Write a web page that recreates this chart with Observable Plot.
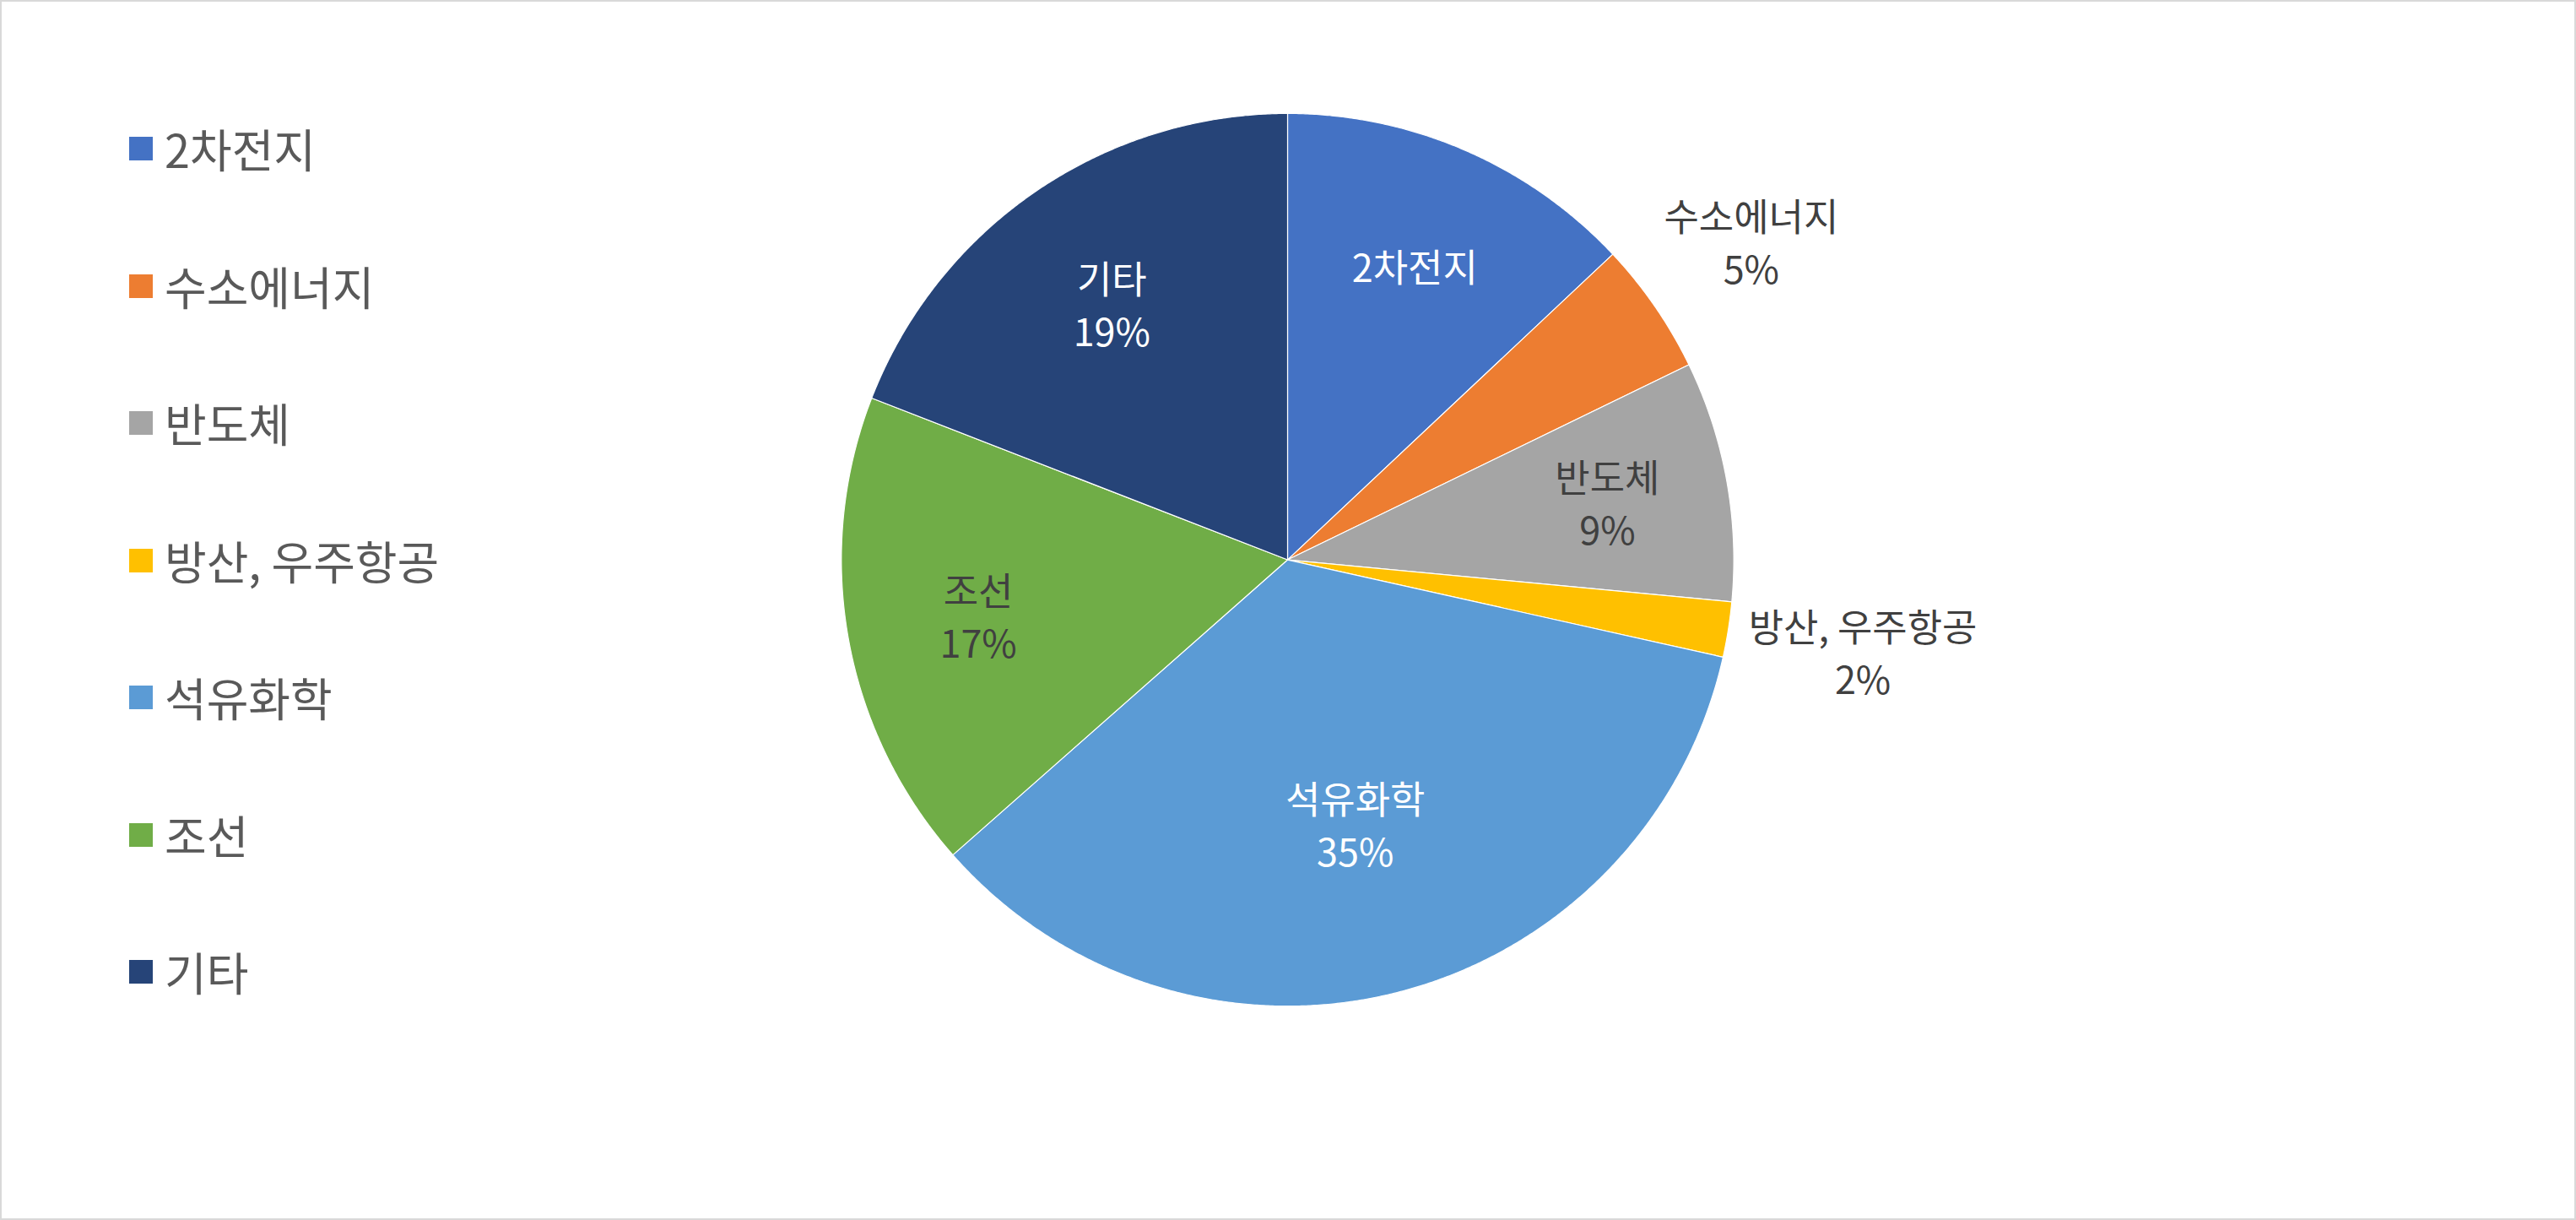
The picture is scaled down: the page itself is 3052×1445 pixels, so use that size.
<!DOCTYPE html>
<html>
<head>
<meta charset="utf-8">
<script src="https://cdn.jsdelivr.net/npm/d3@7"></script>
<script src="https://cdn.jsdelivr.net/npm/@observablehq/plot@0.6"></script>
<style>
  html, body { margin: 0; padding: 0; background: #fff; }
  #wrap { position: relative; width: 3052px; height: 1445px; box-sizing: border-box; border: 2px solid #d9d9d9; overflow: hidden; font-family: "Noto Sans CJK KR", "Noto Sans", sans-serif; }
  #chart { position: absolute; left: -2px; top: -2px; }
  #legend { position: absolute; left: 151px; top: 93px; }
  .item { height: 162.5px; display: flex; align-items: center; }
  .sw { width: 28px; height: 28px; margin-right: 14px; }
  .lab { font-size: 54px; color: #595959; line-height: 1; }
</style>
</head>
<body>
<div id="wrap">
  <div id="legend"></div>
  <div id="chart"></div>
</div>
<script>
const categories = ["2차전지", "수소에너지", "반도체", "방산, 우주항공", "석유화학", "조선", "기타"];
const shares = [13.0, 4.8, 8.7, 2.0, 35.0, 17.4, 19.1];
const showPercent = [false, true, true, true, true, true, true];

const sliceColors = ["#4472C4", "#ED7D31", "#A5A5A5", "#FFC000", "#5B9BD5", "#70AD47", "#264478"];
const whiteLabel = [true, false, false, false, true, false, true];

// layout
const W = 3052, H = 1445, CX = 1526, CY = 663, R = 529;
const FONT = "'Noto Sans CJK KR', 'Noto Sans', sans-serif";
const labelSize = 45, labelLH = 1.38;

const arcs = d3.pie().sort(null).value(d => d)(shares);

const slices = [];
arcs.forEach((a, i) => {
  const name = categories[i];
  slices.push({name, x: 0, y: 0});
  const n = Math.max(4, Math.ceil((a.endAngle - a.startAngle) / 0.005));
  for (let k = 0; k <= n; ++k) {
    const t = a.startAngle + (a.endAngle - a.startAngle) * k / n;
    slices.push({name, x: Math.sin(t), y: Math.cos(t)});
  }
});

const ctx = document.createElement("canvas").getContext("2d");
ctx.font = `${labelSize}px ${FONT}`;

const labels = arcs.map((a, i) => {
  const mid = (a.startAngle + a.endAngle) / 2;
  const alpha = a.endAngle - a.startAngle;
  const lines = showPercent[i] ? [categories[i], Math.round(shares[i]) + "%"] : [categories[i]];
  let r;
  if (shares[i] < 6) {
    // outside: box just clear of the rim
    const w = d3.max(lines, s => ctx.measureText(s).width);
    const h = lines.length * labelSize * labelLH;
    const ux = Math.abs(Math.sin(mid)), uy = Math.abs(Math.cos(mid));
    r = 1 + (ux * w / 2 + uy * h / 2 + 18) / R;
  } else {
    // inside: near the sector centroid
    r = 0.07 + (4 * Math.sin(alpha / 2)) / (3 * alpha);
  }
  return {
    x: r * Math.sin(mid),
    y: r * Math.cos(mid),
    text: lines.join("\n"),
    white: whiteLabel[i]
  };
});

const chart = Plot.plot({
  width: W,
  height: H,
  marginLeft: CX - R,
  marginRight: W - CX - R,
  marginTop: CY - R,
  marginBottom: H - CY - R,
  x: {domain: [-1, 1], axis: null},
  y: {domain: [-1, 1], axis: null},
  color: {domain: categories, range: sliceColors},
  style: {fontFamily: FONT, background: "transparent", overflow: "visible"},
  marks: [
    Plot.line(slices, {x: "x", y: "y", z: "name", fill: "name", stroke: "white", strokeWidth: 1.2, strokeLinejoin: "round", curve: "linear-closed"}),
    Plot.text(labels.filter(d => d.white), {x: "x", y: "y", text: "text", fill: "white", fontSize: labelSize, lineHeight: labelLH}),
    Plot.text(labels.filter(d => !d.white), {x: "x", y: "y", text: "text", fill: "#404040", fontSize: labelSize, lineHeight: labelLH})
  ]
});
document.getElementById("chart").appendChild(chart);

const legend = document.getElementById("legend");
categories.forEach((c, i) => {
  const item = document.createElement("div");
  item.className = "item";
  const sw = document.createElement("div");
  sw.className = "sw";
  sw.style.background = sliceColors[i];
  const lab = document.createElement("div");
  lab.className = "lab";
  lab.textContent = c;
  item.appendChild(sw);
  item.appendChild(lab);
  legend.appendChild(item);
});
</script>
</body>
</html>
